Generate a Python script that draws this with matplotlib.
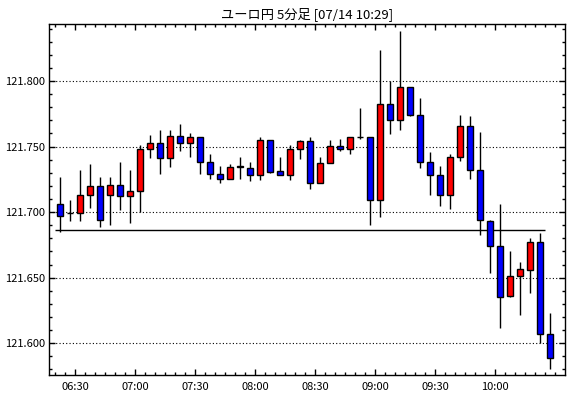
import matplotlib
matplotlib.use('Agg')
import matplotlib.pyplot as plt
import matplotlib.dates as mdates
from matplotlib.ticker import MultipleLocator, FormatStrFormatter
import numpy as np
import pandas as pd

plt.rcParams['font.family'] = ['Noto Sans CJK JP', 'DejaVu Sans']

# EUR/JPY 5 min candles, 06:20 - 10:25
times = pd.date_range('2015-07-14 06:20', '2015-07-14 10:25', freq='5min')
opens = [121.706, 121.699, 121.699, 121.713, 121.720, 121.713, 121.721, 121.712, 121.7165, 121.7485,
         121.753, 121.741, 121.758, 121.753, 121.757, 121.7386, 121.729, 121.7256, 121.7345, 121.734,
         121.7287, 121.7553, 121.7317, 121.7287, 121.7485, 121.7546, 121.7226, 121.7378, 121.7508, 121.7485,
         121.7576, 121.757, 121.7096, 121.7828, 121.770, 121.7957, 121.7744, 121.7386, 121.7287, 121.7134,
         121.7424, 121.766, 121.7325, 121.693, 121.674, 121.6357, 121.651, 121.6555, 121.6776, 121.6067]
highs = [121.727, 121.709, 121.732, 121.737, 121.727, 121.727, 121.738, 121.732, 121.751, 121.759,
         121.763, 121.763, 121.7675, 121.760, 121.7576, 121.7447, 121.735, 121.737, 121.7424, 121.738,
         121.757, 121.7553, 121.742, 121.751, 121.755, 121.757, 121.742, 121.755, 121.7556, 121.7576,
         121.7792, 121.757, 121.824, 121.800, 121.838, 121.7957, 121.787, 121.7457, 121.735, 121.7447,
         121.774, 121.773, 121.761, 121.694, 121.706, 121.670, 121.662, 121.680, 121.684, 121.623]
lows = [121.685, 121.6933, 121.693, 121.703, 121.689, 121.690, 121.702, 121.692, 121.700, 121.741,
        121.729, 121.7345, 121.7466, 121.742, 121.729, 121.7253, 121.722, 121.725, 121.7256, 121.724,
        121.7245, 121.730, 121.728, 121.7245, 121.7406, 121.718, 121.722, 121.7378, 121.7466, 121.744,
        121.7556, 121.690, 121.696, 121.7596, 121.7626, 121.7736, 121.7337, 121.713, 121.7047, 121.7025,
        121.739, 121.7253, 121.6826, 121.6537, 121.612, 121.635, 121.6217, 121.638, 121.600, 121.5805]
closes = [121.697, 121.699, 121.713, 121.720, 121.694, 121.721, 121.712, 121.7165, 121.7485, 121.753,
          121.741, 121.758, 121.753, 121.757, 121.7386, 121.7294, 121.7256, 121.7348, 121.735, 121.7287,
          121.7553, 121.731, 121.7287, 121.7485, 121.7546, 121.7226, 121.7378, 121.7508, 121.7485, 121.7576,
          121.757, 121.7096, 121.7828, 121.770, 121.7957, 121.7744, 121.7386, 121.7287, 121.7134, 121.7424,
          121.766, 121.7325, 121.6938, 121.674, 121.635, 121.651, 121.657, 121.6776, 121.6067, 121.5885]
ref_level = 121.6863
ref_start = '2015-07-14 06:20'
ref_end = '2015-07-14 10:25'
tick_times = pd.date_range('2015-07-14 06:30', '2015-07-14 10:00', freq='30min')

fig = plt.figure(figsize=(5.7, 3.98), dpi=100)
ax = fig.add_axes([49/570, 1-375/398, (565-49)/570, (375-24)/398])

minute = 1/1440
x = mdates.date2num(times) + 2.5*minute
o = np.array(opens)
c = np.array(closes)
colors = ['#ff0000' if cc >= oo else '#0000ff' for oo, cc in zip(o, c)]

ax.vlines(x, lows, highs, color='black', lw=1, zorder=2)
ax.bar(x, np.abs(c-o), width=3.2*minute, bottom=np.minimum(o, c),
       color=colors, edgecolor='black', lw=1, zorder=3)

ax.hlines(ref_level, mdates.date2num(pd.Timestamp(ref_start)), mdates.date2num(pd.Timestamp(ref_end)),
          color='black', lw=1, zorder=1)

t0 = mdates.date2num(times[0])
ax.set_xlim(t0 - 3.15*minute, t0 + 254.85*minute)
ax.set_ylim(121.5758, 121.8435)

ax.yaxis.set_major_locator(MultipleLocator(0.05))
ax.yaxis.set_minor_locator(MultipleLocator(0.01))
ax.yaxis.set_major_formatter(FormatStrFormatter('%.3f'))
ax.xaxis.set_major_locator(matplotlib.ticker.FixedLocator(mdates.date2num(tick_times)))
ax.xaxis.set_minor_locator(mdates.MinuteLocator(byminute=range(0, 60, 5)))
ax.xaxis.set_major_formatter(mdates.DateFormatter('%H:%M'))

ax.grid(True, axis='y', which='major', color='black', linestyle=(0, (1, 2)), lw=0.8)
ax.tick_params(which='both', direction='in', top=True, right=True, labelsize=8)
ax.tick_params(which='major', length=4, width=1)
ax.tick_params(which='minor', length=2.5, width=1)
ax.tick_params(axis='y', pad=3)
ax.tick_params(axis='x', pad=5)
for s in ax.spines.values():
    s.set_linewidth(1)

ax.set_title('ユーロ円 5分足 [07/14 10:29]', fontsize=9.5, pad=4)

plt.savefig('out.png', dpi=100)
